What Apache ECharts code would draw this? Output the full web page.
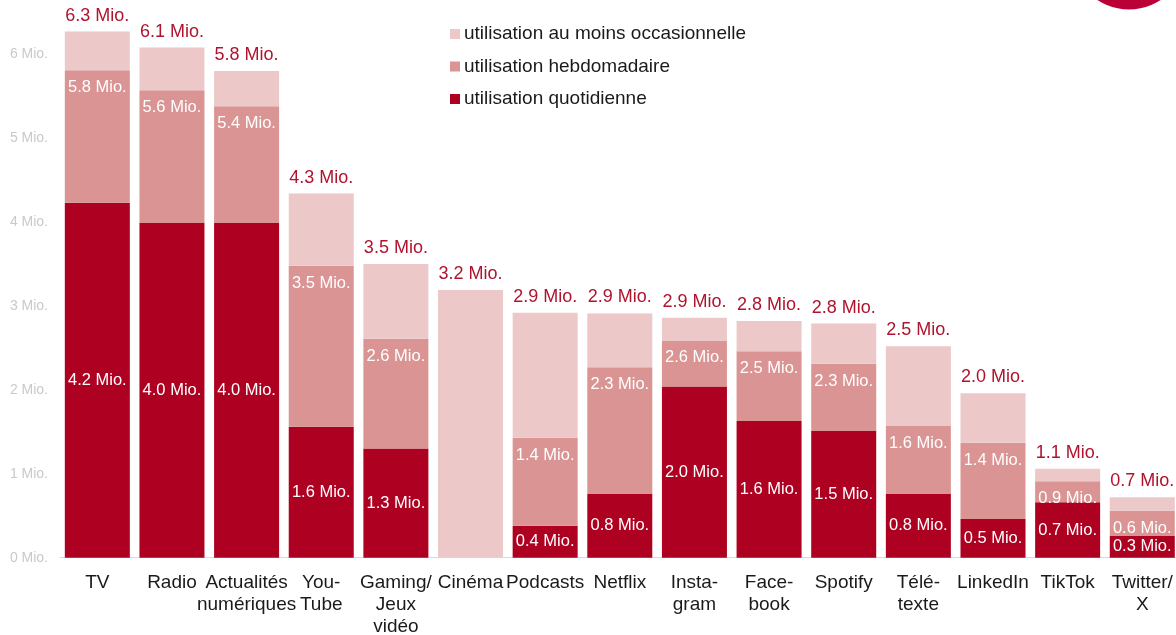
<!DOCTYPE html>
<html>
<head>
<meta charset="utf-8">
<script src="https://cdn.jsdelivr.net/npm/echarts@6/dist/echarts.min.js"></script>
<style>
  html, body { margin: 0; padding: 0; background: #fff; }
  #chart { width: 1176px; height: 635px; }
</style>
</head>
<body>
<div id="chart"></div>
<script>
// usage in millions, cumulative: daily <= weekly <= occasional
const categories = ['TV', 'Radio', 'Actualités\nnumériques', 'You-\nTube', 'Gaming/\nJeux\nvidéo', 'Cinéma',
  'Podcasts', 'Netflix', 'Insta-\ngram', 'Face-\nbook', 'Spotify', 'Télé-\ntexte', 'LinkedIn', 'TikTok', 'Twitter/\nX'];
const daily      = [4.23, 3.99, 3.99, 1.56, 1.30, null, 0.38, 0.76, 2.04, 1.63, 1.51, 0.76, 0.46, 0.66, 0.26];
const weekly     = [5.81, 5.57, 5.38, 3.48, 2.61, null, 1.43, 2.27, 2.59, 2.46, 2.31, 1.57, 1.37, 0.91, 0.56];
const occasional = [6.27, 6.08, 5.80, 4.34, 3.50, 3.19, 2.92, 2.91, 2.86, 2.82, 2.79, 2.52, 1.96, 1.06, 0.72];
const yTicks = [0, 1, 2, 3, 4, 5, 6];

const fmt = v => v.toFixed(1) + ' Mio.';

// stacked segments built from the cumulative values
const weeklyPart = weekly.map((v, i) => v == null ? null : +(v - (daily[i] || 0)).toFixed(2));
const occPart = occasional.map((v, i) => +(v - (weekly[i] || 0)).toFixed(2));

const chart = echarts.init(document.getElementById('chart'));

const option = {
  animation: false,
  textStyle: { fontFamily: 'Liberation Sans, Arial, sans-serif' },
  legend: {
    orient: 'vertical',
    left: 450,
    top: 24,
    padding: 0,
    itemWidth: 10,
    itemHeight: 10,
    itemGap: 12.5,
    icon: 'rect',
    data: ['utilisation au moins occasionnelle', 'utilisation hebdomadaire', 'utilisation quotidienne'],
    textStyle: { fontSize: 19, color: '#1a1a1a', lineHeight: 20, padding: [0, 0, 0, -1] }
  },
  grid: { left: 60, right: -3.6, top: 12.3, bottom: 77.3, containLabel: false, outerBoundsMode: 'none' },
  xAxis: {
    type: 'category',
    data: categories,
    axisLine: { lineStyle: { color: '#d9d9d9', width: 1 } },
    axisTick: { show: false },
    axisLabel: { interval: 0, fontSize: 19, color: '#1a1a1a', lineHeight: 22, margin: 14 }
  },
  yAxis: {
    type: 'value',
    min: 0,
    max: 6.5,
    interval: 1,
    splitLine: { show: false },
    axisLine: { show: false },
    axisTick: { show: false },
    axisLabel: {
      fontSize: 14,
      color: '#c9c9c9',
      margin: 12,
      formatter: v => yTicks.includes(v) ? v + ' Mio.' : ''
    }
  },
  series: [
    {
      name: 'utilisation quotidienne',
      type: 'bar',
      stack: 'use',
      barWidth: 65,
      itemStyle: { color: '#AE0021' },
      label: {
        show: true,
        position: 'inside',
        color: '#fff',
        fontSize: 16.5,
        formatter: p => fmt(daily[p.dataIndex])
      },
      data: daily
    },
    {
      name: 'utilisation hebdomadaire',
      type: 'bar',
      stack: 'use',
      itemStyle: { color: '#D99493' },
      label: {
        show: true,
        position: 'insideTop',
        distance: 9,
        color: '#fff',
        fontSize: 16.5,
        formatter: p => fmt(weekly[p.dataIndex])
      },
      data: weeklyPart
    },
    {
      name: 'utilisation au moins occasionnelle',
      type: 'bar',
      stack: 'use',
      itemStyle: { color: '#ECC8C8' },
      label: {
        show: true,
        position: 'top',
        distance: 7,
        color: '#B0132E',
        fontSize: 18,
        formatter: p => fmt(occasional[p.dataIndex])
      },
      data: occPart
    }
  ],
  graphic: [
    {
      type: 'circle',
      shape: { cx: 1129, cy: -48.6, r: 58 },
      style: { fill: '#BA0037' },
      silent: true
    }
  ]
};

chart.setOption(option);
</script>
</body>
</html>
